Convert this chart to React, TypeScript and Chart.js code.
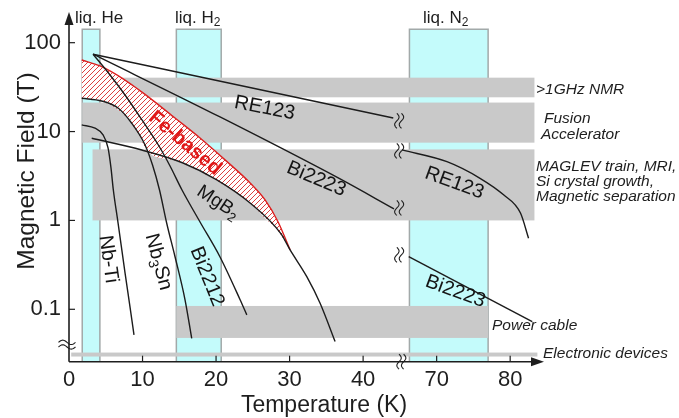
import React, { useEffect, useRef } from "react";
import { Chart, registerables } from "chart.js";
Chart.register(...registerables);

const FONT = '"Liberation Sans", Arial, Helvetica, sans-serif';
const W = 679;
const H = 418;

// ---- axes ----
const xTickTemps = [0, 10, 20, 30, 40, 70, 80];
const xTickLabels = ["0", "10", "20", "30", "40", "70", "80"];
const yTickValues = [0.1, 1, 10, 100];
const yTickLabels = ["0.1", "1", "10", "100"];
const BREAK_FROM = 45; // K, axis is cut between these temperatures
const BREAK_TO = 65;
const toAxis = (t: number) => (t <= BREAK_FROM ? t : t - (BREAK_TO - BREAK_FROM));

// ---- coolant temperature bands ----
const coolantFrom = [1.8, 14.6, 66.3];
const coolantTo = [4.2, 20.7, 77.0];
const coolantTop = 142;

// ---- application field regions ----
const appFromT = [4.2, 1.8, 3.2, 14.6, 0.3];
const appToT = [83.3, 83.3, 83.3, 77.0, 83.7];
const appLowB = [24.3, 7.5, 1.0, 0.0476, 0.0294];
const appHighB = [40.4, 21.2, 6.3, 0.109, 0.0326];

// ---- superconductor curves (T in K, B in tesla) ----
const re123LowT = [3.27, 44.1];
const re123LowB = [74.2, 14.2];
const re123HighT = [65.3, 71.4, 75.9, 79.1, 81.4, 82.5];
const re123HighB = [6.21, 4.58, 2.98, 1.94, 1.21, 0.63];
const bi2223LowT = [3.27, 20.54, 36.87, 44.2];
const bi2223LowB = [74.2, 14.6, 2.93, 1.35];
const bi2223HighT = [66.2, 83.0];
const bi2223HighB = [0.392, 0.0728];
const bi2212T = [3.27, 5.58, 7.62, 9.93, 12.15, 13.74, 15.37, 17.82, 20.54, 23.27, 24.18];
const bi2212B = [74.2, 43.3, 25.8, 13.5, 7.06, 4.1, 2.2, 0.96, 0.388, 0.128, 0.0865];
const mgb2T = [3.09, 9.89, 15.51, 20.1, 24.63, 28.84, 30.07, 32.34, 34.15, 36.19];
const mgb2B = [8.4, 6.2, 4.43, 2.86, 1.57, 0.705, 0.466, 0.233, 0.117, 0.0433];
const nb3snT = [1.73, 4.45, 6.71, 8.53, 10.34, 11.36, 12.31, 13.29, 14.42, 15.78, 16.69];
const nb3snB = [23.7, 22.1, 18.3, 12.4, 7.07, 4.2, 2.2, 0.93, 0.39, 0.128, 0.047];
const nbtiT = [1.73, 3.54, 4.63, 5.31, 5.71, 6.03, 6.67, 7.62, 8.3, 8.84];
const nbtiB = [11.9, 10.9, 9.16, 6.55, 3.9, 2.2, 0.94, 0.257, 0.106, 0.0515];
// Fe-based band
const feT = [1.73, 4.22, 7.62, 9.5, 10.7, 14.42, 17.82, 21.22, 24.63, 26.67, 28.44, 30.07];
const feUpperB = [63.9, 54.7, 38.0, 29.4, 24.9, 14.2, 8.47, 4.8, 2.64, 1.7, 0.96, 0.466];
const feLowerB = [23.7, 22.3, 15.1, 9.2, 5.9, 4.72, 3.56, 2.47, 1.57, 1.06, 0.76, 0.466];

const pts = (ts: number[], bs: number[]) => ts.map((t, i) => ({ x: toAxis(t), y: bs[i] }));

function curve(ts: number[], bs: number[]) {
  return {
    data: pts(ts, bs),
    borderColor: "#1c1c1c",
    borderWidth: 1.4,
    pointRadius: 0,
    fill: false,
    cubicInterpolationMode: "monotone",
    order: 0,
  };
}

function makeHatch(ctx: CanvasRenderingContext2D) {
  const n = 5;
  const c = document.createElement("canvas");
  c.width = n;
  c.height = n;
  const g = c.getContext("2d")!;
  g.fillStyle = "#ffffff";
  g.fillRect(0, 0, n, n);
  g.strokeStyle = "#dc4040";
  g.lineWidth = 1;
  g.beginPath();
  g.moveTo(-1, n + 1);
  g.lineTo(n + 1, -1);
  g.moveTo(-1, 1);
  g.lineTo(1, -1);
  g.moveTo(n - 1, n + 1);
  g.lineTo(n + 1, n - 1);
  g.stroke();
  return ctx.createPattern(c, "repeat");
}

function rich(
  ctx: CanvasRenderingContext2D,
  parts: [string, boolean][],
  cx: number,
  cy: number,
  deg: number,
  size: number,
  color = "#151515",
  weight = "normal",
  style = "normal",
  align: "center" | "left" = "center"
) {
  ctx.save();
  ctx.translate(cx, cy);
  ctx.rotate((deg * Math.PI) / 180);
  const main = `${style} ${weight} ${size}px ${FONT}`;
  const sub = `${style} ${weight} ${Math.round(size * 0.7)}px ${FONT}`;
  let w = 0;
  parts.forEach(([s, isSub]) => {
    ctx.font = isSub ? sub : main;
    w += ctx.measureText(s).width;
  });
  let x = align === "center" ? -w / 2 : 0;
  ctx.fillStyle = color;
  ctx.textAlign = "left";
  ctx.textBaseline = "alphabetic";
  const base = align === "center" ? size * 0.36 : 0;
  parts.forEach(([s, isSub]) => {
    ctx.font = isSub ? sub : main;
    ctx.fillText(s, x, base + (isSub ? size * 0.22 : 0));
    x += ctx.measureText(s).width;
  });
  ctx.restore();
}

function vWave(ctx: CanvasRenderingContext2D, cx: number, cy: number) {
  const h = 15;
  [-2.3, 2.3].forEach((off) => {
    ctx.beginPath();
    for (let i = 0; i <= 24; i++) {
      const t = i / 24;
      const x = cx + off + 2.2 * Math.sin(t * Math.PI * 2);
      const y = cy - h / 2 + t * h;
      if (i === 0) ctx.moveTo(x, y);
      else ctx.lineTo(x, y);
    }
    ctx.stroke();
  });
}

function hWave(ctx: CanvasRenderingContext2D, cx: number, cy: number) {
  const w = 17;
  [-2.3, 2.3].forEach((off) => {
    ctx.beginPath();
    for (let i = 0; i <= 24; i++) {
      const t = i / 24;
      const x = cx - w / 2 + t * w;
      const y = cy + off - 2.2 * Math.sin(t * Math.PI * 2);
      if (i === 0) ctx.moveTo(x, y);
      else ctx.lineTo(x, y);
    }
    ctx.stroke();
  });
}

const overlay = {
  id: "overlay",
  beforeDatasetsDraw(chart: any) {
    const { ctx, chartArea } = chart;
    const xs = chart.scales.x;
    const ys = chart.scales.y;
    const px = (t: number) => xs.getPixelForValue(toAxis(t));
    const py = (b: number) => ys.getPixelForValue(b);
    const bottom = chartArea.bottom;
    ctx.save();
    coolantFrom.forEach((t0, i) => {
      const l = px(t0);
      const r = px(coolantTo[i]);
      const t = py(coolantTop);
      ctx.fillStyle = "#c4fbfb";
      ctx.fillRect(l, t, r - l, bottom - t);
      ctx.strokeStyle = "#a2a9a9";
      ctx.lineWidth = 1.5;
      ctx.beginPath();
      ctx.moveTo(l, bottom);
      ctx.lineTo(l, t);
      ctx.lineTo(r, t);
      ctx.lineTo(r, bottom);
      ctx.stroke();
    });
    appFromT.forEach((t0, i) => {
      const l = px(t0);
      const r = px(appToT[i]);
      const top = py(appHighB[i]);
      const bot = py(appLowB[i]);
      ctx.fillStyle = "#c9c9c9";
      ctx.fillRect(l, top, r - l, bot - top);
    });
    ctx.restore();
  },
  afterDatasetsDraw(chart: any) {
    const { ctx, chartArea } = chart;
    const xs = chart.scales.x;
    const ys = chart.scales.y;
    const px = (t: number) => xs.getPixelForValue(toAxis(t));
    const py = (b: number) => ys.getPixelForValue(b);
    const L = chartArea.left;
    const B = chartArea.bottom;
    const ink = "#1e1e1e";
    ctx.save();
    ctx.strokeStyle = ink;
    ctx.fillStyle = ink;
    ctx.lineWidth = 1.6;
    // y axis + arrow
    const yTip = chartArea.top;
    ctx.beginPath();
    ctx.moveTo(L, B);
    ctx.lineTo(L, yTip + 8);
    ctx.stroke();
    ctx.beginPath();
    ctx.moveTo(L, yTip);
    ctx.lineTo(L - 4.5, yTip + 13);
    ctx.lineTo(L + 4.5, yTip + 13);
    ctx.closePath();
    ctx.fill();
    // x axis + arrow
    const xTip = xs.getPixelForValue(64.6);
    ctx.beginPath();
    ctx.moveTo(L, B);
    ctx.lineTo(xTip - 8, B);
    ctx.stroke();
    ctx.beginPath();
    ctx.moveTo(xTip, B);
    ctx.lineTo(xTip - 13, B - 4.5);
    ctx.lineTo(xTip - 13, B + 4.5);
    ctx.closePath();
    ctx.fill();
    // inward ticks
    ctx.lineWidth = 1.2;
    yTickValues.forEach((v) => {
      ctx.beginPath();
      ctx.moveTo(L, py(v));
      ctx.lineTo(L + 6, py(v));
      ctx.stroke();
    });
    xTickTemps.forEach((t) => {
      if (t === 0) return;
      ctx.beginPath();
      ctx.moveTo(px(t), B);
      ctx.lineTo(px(t), B - 6);
      ctx.stroke();
    });
    // axis breaks
    ctx.lineWidth = 1.1;
    const xb = xs.getPixelForValue(44.9);
    hWave(ctx, L - 2, py(0.04));
    vWave(ctx, xs.getPixelForValue(45.2), B);
    vWave(ctx, xb, py(13.2));
    vWave(ctx, xb, py(1.38));
    vWave(ctx, xb, py(6.05));
    vWave(ctx, xb, py(0.41));

    // axis titles
    rich(ctx, [["Magnetic Field (T)", false]], 25.5, 171, -90, 24.5, ink, "normal", "normal", "center");
    ctx.save();
    ctx.font = `23px ${FONT}`;
    ctx.fillStyle = ink;
    ctx.textAlign = "center";
    ctx.textBaseline = "alphabetic";
    ctx.fillText("Temperature (K)", 324, 412);
    ctx.restore();

    // coolant labels
    rich(ctx, [["liq. He", false]], 75, 22.5, 0, 17, ink, "normal", "normal", "left");
    rich(ctx, [["liq. H", false], ["2", true]], 175, 22.5, 0, 17, ink, "normal", "normal", "left");
    rich(ctx, [["liq. N", false], ["2", true]], 423, 22.5, 0, 17, ink, "normal", "normal", "left");

    // application labels
    const it = (s: string, x: number, y: number) =>
      rich(ctx, [[s, false]], x, y, 0, 15.5, ink, "normal", "italic", "left");
    it(">1GHz NMR", 536, 94);
    it("Fusion", 544, 123);
    it("Accelerator", 541, 139);
    it("MAGLEV train, MRI,", 536, 171);
    it("Si crystal growth,", 536, 186);
    it("Magnetic separation", 536, 201);
    it("Power cable", 492, 330);
    it("Electronic devices", 543, 358);

    // material labels
    rich(ctx, [["RE123", false]], 265, 106.5, 11, 20);
    rich(ctx, [["Bi2223", false]], 317, 177.5, 23, 20);
    rich(ctx, [["Fe-based", false]], 186, 142, 40, 20, "#e01818", "bold");
    rich(ctx, [["MgB", false], ["2", true]], 219, 201, 33, 19);
    rich(ctx, [["Nb-Ti", false]], 110, 259, 82, 20);
    rich(ctx, [["Nb", false], ["3", true], ["Sn", false]], 160, 261.5, 75, 20);
    rich(ctx, [["Bi2212", false]], 208.5, 276, 68, 20);
    rich(ctx, [["RE123", false]], 455, 181.5, 20, 20);
    rich(ctx, [["Bi2223", false]], 456, 290, 20, 20);
    ctx.restore();
  },
};

export default function App() {
  const ref = useRef<HTMLCanvasElement>(null);
  useEffect(() => {
    const canvas = ref.current!;
    const hatch = makeHatch(canvas.getContext("2d")!);
    const chart = new Chart(canvas, {
      type: "line",
      data: {
        datasets: [
          curve(re123LowT, re123LowB),
          curve(re123HighT, re123HighB),
          curve(bi2223LowT, bi2223LowB),
          curve(bi2223HighT, bi2223HighB),
          curve(bi2212T, bi2212B),
          curve(mgb2T, mgb2B),
          curve(nb3snT, nb3snB),
          curve(nbtiT, nbtiB),
          {
            data: pts(feT, feUpperB),
            borderColor: "#dd2020",
            borderWidth: 1.4,
            backgroundColor: hatch,
            fill: "+1",
            pointRadius: 0,
            cubicInterpolationMode: "monotone",
            order: 1,
          },
          {
            data: pts(feT, feLowerB),
            borderColor: "rgba(0,0,0,0)",
            borderWidth: 0,
            pointRadius: 0,
            fill: false,
            cubicInterpolationMode: "monotone",
            order: 1,
          },
        ] as any,
      },
      options: {
        animation: false,
        responsive: false,
        devicePixelRatio: 1,
        layout: { padding: { left: 0, right: 110, top: 12, bottom: 0 } },
        plugins: { legend: { display: false }, tooltip: { enabled: false } },
        scales: {
          x: {
            type: "linear",
            min: 0,
            max: 68,
            bounds: "data",
            afterBuildTicks: (s: any) => {
              s.ticks = xTickTemps.map((t) => ({ value: toAxis(t) }));
            },
            afterFit: (s: any) => {
              s.height = H - 361.7;
              s.paddingLeft = 0;
              s.paddingRight = 0;
              s.paddingTop = 0;
              s.paddingBottom = 0;
            },
            ticks: {
              autoSkip: false,
              maxRotation: 0,
              padding: 5,
              color: "#1e1e1e",
              font: { family: FONT, size: 22 },
              callback: (_v: any, i: number) => xTickLabels[i],
            },
            grid: { display: false, drawTicks: false },
            border: { display: false },
          },
          y: {
            type: "logarithmic",
            min: 0.02572,
            max: 221.5,
            bounds: "data",
            afterBuildTicks: (s: any) => {
              s.ticks = yTickValues.map((v) => ({ value: v }));
            },
            afterFit: (s: any) => {
              s.width = 69;
              s.paddingLeft = 0;
              s.paddingRight = 0;
              s.paddingTop = 0;
              s.paddingBottom = 0;
            },
            ticks: {
              autoSkip: false,
              padding: 8,
              color: "#1e1e1e",
              font: { family: FONT, size: 22 },
              callback: (_v: any, i: number) => yTickLabels[i],
            },
            grid: { display: false, drawTicks: false },
            border: { display: false },
          },
        },
      } as any,
      plugins: [overlay],
    });
    return () => chart.destroy();
  }, []);
  return (
    <div style={{ position: "fixed", left: 0, top: 0, width: W, height: H, background: "#fff" }}>
      <canvas ref={ref} width={W} height={H} style={{ width: W, height: H, display: "block" }} />
    </div>
  );
}
